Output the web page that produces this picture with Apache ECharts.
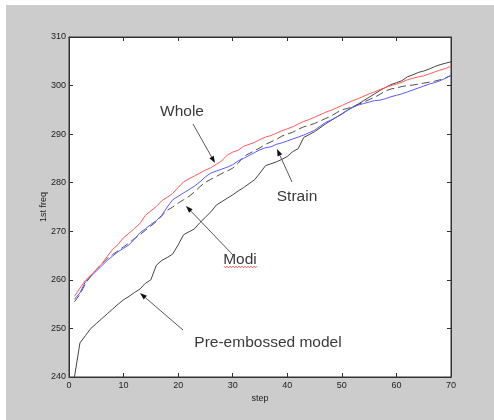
<!DOCTYPE html>
<html>
<head>
<meta charset="utf-8">
<script src="https://cdn.jsdelivr.net/npm/echarts@6/dist/echarts.min.js"></script>
<style>
html,body{margin:0;padding:0;background:#fff;}
#c{width:494px;height:420px;}
</style>
</head>
<body>
<div id="c"></div>
<script>
var steps = [1,2,3,4,5,6,7,8,9,10,11,12,13,14,15,16,17,18,19,20,21,22,23,24,25,26,27,28,29,30,31,32,33,34,35,36,37,38,39,40,41,42,43,44,45,46,47,48,49,50,51,52,53,54,55,56,57,58,59,60,61,62,63,64,65,66,67,68,69,70];

var whole = [256.6,258.3,259.9,261.0,262.1,263.3,264.8,266.3,267.3,268.7,269.6,270.6,271.6,273.3,274.2,275.1,276.3,277.0,277.8,279.0,280.2,280.8,281.4,282.0,282.6,283.1,283.8,284.5,285.7,286.3,286.7,287.5,287.9,288.3,288.9,289.4,289.7,290.2,290.7,291.1,291.5,292.1,292.6,293.0,293.5,294.0,294.5,294.9,295.4,295.9,296.4,296.9,297.3,297.8,298.3,298.7,299.2,299.6,300.0,300.3,300.7,301.2,301.5,301.8,302.0,302.4,302.8,303.2,303.5,304.0];

var strain = [256.0,257.3,259.6,260.7,261.8,262.9,264.0,264.9,265.8,266.5,267.2,268.4,269.7,270.5,271.4,272.2,273.3,275.0,276.5,277.2,277.9,278.6,279.3,280.2,281.2,282.0,282.4,282.8,283.2,283.7,284.5,285.0,285.6,286.2,286.8,287.2,287.4,287.9,288.2,288.6,289.0,289.4,289.8,290.3,290.8,291.6,292.4,292.9,293.5,294.1,294.9,295.5,296.0,296.3,296.6,296.9,297.0,297.3,297.7,298.0,298.3,298.7,299.1,299.5,299.9,300.3,300.6,301.0,301.5,302.1];

var modi = [255.5,257.0,259.2,260.8,262.1,263.3,264.4,265.2,266.0,266.8,267.6,268.5,269.3,270.2,271.1,272.0,273.2,274.3,275.0,275.8,276.5,277.2,278.1,279.2,280.1,280.7,281.3,281.9,282.4,283.0,284.0,285.4,286.0,286.6,287.2,287.9,288.4,288.9,289.6,290.0,290.4,291.0,291.5,291.8,292.2,292.7,293.2,293.7,294.4,295.0,295.3,295.6,296.1,296.6,297.1,297.6,298.2,298.9,299.3,299.5,299.8,300.0,300.1,300.3,300.5,300.7,300.9,301.2,301.6,302.1];

var preEmbossed = [240.0,247.0,248.5,250.0,251.0,252.0,253.0,254.0,255.0,255.9,256.6,257.4,258.1,259.3,260.0,263.0,264.0,264.6,265.3,267.2,269.3,269.9,270.5,271.8,272.9,274.0,275.4,276.1,276.8,277.5,278.3,279.0,279.8,280.6,282.0,283.5,283.9,284.3,284.8,285.4,286.4,287.0,289.3,289.9,290.5,291.3,292.1,292.8,293.5,294.2,294.9,295.6,296.2,296.9,297.6,298.3,299.0,299.6,300.2,300.6,301.0,301.8,302.2,302.7,303.0,303.4,303.9,304.3,304.6,304.9];

var xTicks = [0,10,20,30,40,50,60,70];
var yTicks = [240,250,260,270,280,290,300,310];

function pairs(xs, ys){ return xs.map(function(x,i){ return [x, ys[i]]; }); }

var FONT = 'Liberation Sans, Arial, sans-serif';
var AX = '#333333';

function arrow(x1,y1,x2,y2){
  var dx=x2-x1, dy=y2-y1, L=Math.sqrt(dx*dx+dy*dy), ux=dx/L, uy=dy/L;
  var hl=7, hw=2.5;
  var bx=x2-ux*hl, by=y2-uy*hl;
  return [
    {type:'line', shape:{x1:x1,y1:y1,x2:bx,y2:by}, style:{stroke:'#454545', lineWidth:0.9}, z:10},
    {type:'polygon', shape:{points:[[x2,y2],[bx-uy*hw,by+ux*hw],[bx+uy*hw,by-ux*hw]]}, style:{fill:'#111'}, z:10}
  ];
}
function label(txt,cx,cy){
  return {type:'text', x:cx, y:cy, z:11, style:{text:txt, fill:'#3a3a3a', font:'15.5px '+FONT, textAlign:'center', textVerticalAlign:'middle'}};
}
function wavy(x1,x2,y){
  var pts=[]; var k=0;
  for(var x=x1;x<=x2;x+=1.5){ pts.push([x, y + (k%2===0?-0.8:0.8)]); k++; }
  return {type:'polyline', shape:{points:pts}, style:{stroke:'#e03030', lineWidth:0.8, fill:null}, z:11};
}

var graphics = [
  {type:'rect', shape:{x:0,y:0,width:494,height:5}, style:{fill:'#ffffff'}, z:-1},
  {type:'rect', shape:{x:0,y:0,width:6,height:420}, style:{fill:'#ffffff'}, z:-1},
  label('Whole',182,112),
  label('Strain',297,197),
  label('Modi',240,260),
  label('Pre-embossed model',268,343),
  wavy(224,257,267)
].concat(arrow(193,124,215,163))
 .concat(arrow(292,182,277,149))
 .concat(arrow(233,255,186,206))
 .concat(arrow(183,330,140,293));

var chart = echarts.init(document.getElementById('c'), null, {renderer:'canvas'});
var axisCommon = {
  type:'value',
  axisLine:{show:true, onZero:false, lineStyle:{color:AX, width:1}},
  axisTick:{show:true, inside:true, length:4, lineStyle:{color:AX}},
  splitLine:{show:false}
};
chart.setOption({
  backgroundColor:'#cccccc',
  animation:false,
  grid:{left:69, right:43, top:37, bottom:43, show:true, backgroundColor:'#ffffff', borderColor:AX, borderWidth:1},
  xAxis:[
    Object.assign({}, axisCommon, {position:'bottom', min:xTicks[0], max:xTicks[xTicks.length-1], interval:10,
      name:'step', nameLocation:'middle', nameGap:17, nameMoveOverlap:false, nameTextStyle:{color:'#222', fontSize:9, fontFamily:FONT},
      axisLabel:{color:'#222', fontSize:9, fontFamily:FONT, margin:4}}),
    Object.assign({}, axisCommon, {position:'top', min:xTicks[0], max:xTicks[xTicks.length-1], interval:10, axisLabel:{show:false}})
  ],
  yAxis:[
    Object.assign({}, axisCommon, {position:'left', min:yTicks[0], max:yTicks[yTicks.length-1], interval:10,
      name:'1st freq', nameLocation:'middle', nameGap:21, nameMoveOverlap:false, nameTextStyle:{color:'#222', fontSize:9, fontFamily:FONT},
      axisLabel:{color:'#222', fontSize:9, fontFamily:FONT, margin:3}}),
    Object.assign({}, axisCommon, {position:'right', min:yTicks[0], max:yTicks[yTicks.length-1], interval:10, axisLabel:{show:false}})
  ],
  series:[
    {name:'Pre-embossed model', type:'line', data:pairs(steps, preEmbossed), showSymbol:false, symbol:'none', lineStyle:{color:'#454545', width:1}, z:2},
    {name:'Modi', type:'line', data:pairs(steps, modi), showSymbol:false, symbol:'none', lineStyle:{color:'#505050', width:1, type:[8,4]}, z:3},
    {name:'Strain', type:'line', data:pairs(steps, strain), showSymbol:false, symbol:'none', lineStyle:{color:'#5a5aff', width:1}, z:4},
    {name:'Whole', type:'line', data:pairs(steps, whole), showSymbol:false, symbol:'none', lineStyle:{color:'#ff5a5a', width:1}, z:5}
  ],
  graphic:graphics
});
</script>
</body>
</html>
